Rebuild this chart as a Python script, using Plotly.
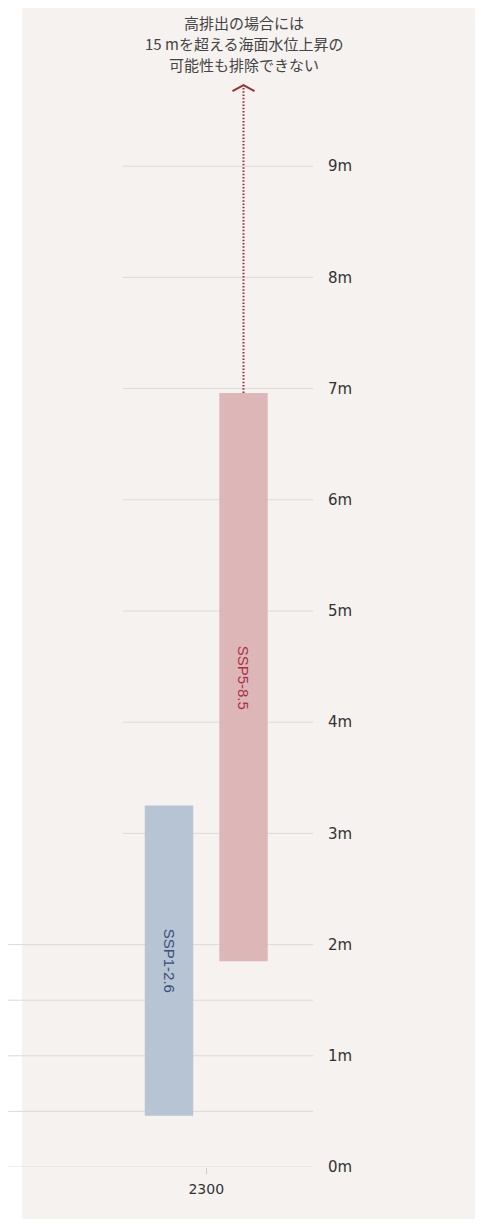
import plotly.graph_objects as go

# sea level rise by 2300 (metres), likely range per scenario
year = 2300
scenarios = ['SSP1-2.6', 'SSP5-8.5']
low = [0.46, 1.85]
high = [3.25, 6.96]
arrow_top = 9.73

y_ticks = [0, 1, 2, 3, 4, 5, 6, 7, 8, 9]
y_tick_labels = [f'{v}m' for v in y_ticks]
grid_low = [0, 0.5, 1, 1.5, 2]
grid_high = [3, 4, 5, 6, 7, 8, 9]

note_lines = ['高排出の場合には', '15 mを超える海面水位上昇の', '可能性も排除できない']

bar_colors = ['#b6c4d3', '#ddb6b8']
label_colors = ['#34507a', '#a8323f']
arrow_color = '#9c2f38'

BG = '#f6f2ef'
GRID = '#dcdad8'

# page body has an 8px margin, so the figure is sized to fit inside it
W, H = 475, 1211
PLOT_W = 305
BOTTOM = 52
PX_PER_M = 111.2
PX_PER_X = 149

fig = go.Figure()
for i, name in enumerate(scenarios):
    fig.add_trace(go.Bar(
        x=[year], y=[high[i] - low[i]], base=[low[i]], name=name,
        marker=dict(color=bar_colors[i], line=dict(width=0)),
        showlegend=False, hoverinfo='skip'
    ))

# bar slots inside the group: each takes half a unit
slot = 0.5
x_centers = [year - slot / 2, year + slot / 2]
xr = x_centers[1]

# dotted line above the high-emission bar
fig.add_trace(go.Scatter(
    x=[xr, xr], y=[high[1], arrow_top - 0.02],
    mode='lines', line=dict(color=arrow_color, width=2, dash='1.5px,1.8px'),
    showlegend=False, hoverinfo='skip'
))
# flat chevron arrowhead (half width 11px, depth 6px)
dx, dy = 11 / PX_PER_X, 6 / PX_PER_M
fig.add_trace(go.Scatter(
    x=[xr - dx, xr, xr + dx], y=[arrow_top - dy, arrow_top, arrow_top - dy],
    mode='lines', line=dict(color=arrow_color, width=2),
    showlegend=False, hoverinfo='skip'
))

# scenario labels, rotated inside bars
for i, name in enumerate(scenarios):
    fig.add_annotation(
        x=x_centers[i], y=(low[i] + high[i]) / 2, text=name,
        textangle=90, showarrow=False,
        font=dict(family='Liberation Sans Narrow, Liberation Sans, sans-serif',
                  size=15, color=label_colors[i])
    )

# note above the arrow, one line per annotation
for k, line in enumerate(note_lines):
    fig.add_annotation(
        x=xr, y=1, xref='x', yref='paper', yanchor='middle',
        yshift=-14 - 21 * k, text=line, showarrow=False,
        font=dict(family='Noto Sans CJK JP', size=15, color='#444444')
    )

# white strip on the left and gridlines
shapes = [dict(type='rect', xref='paper', yref='paper', x0=-0.1, x1=14 / PLOT_W,
               y0=-1, y1=1.1, fillcolor='white', line_width=0, layer='below')]
for v in grid_low:
    shapes.append(dict(type='line', xref='paper', yref='y', x0=0, x1=1, y0=v, y1=v,
                       line=dict(color=GRID, width=1), layer='below'))
for v in grid_high:
    shapes.append(dict(type='line', xref='paper', yref='y', x0=115 / PLOT_W, x1=1,
                       y0=v, y1=v, line=dict(color=GRID, width=1), layer='below'))

fig.update_layout(
    width=W, height=H,
    margin=dict(l=0, r=W - PLOT_W, t=0, b=BOTTOM),
    paper_bgcolor=BG, plot_bgcolor=BG,
    barmode='group', bargap=0, bargroupgap=0.35,
    shapes=shapes,
    font=dict(family='DejaVu Sans', size=15, color='#333333'),
    xaxis=dict(range=[year - 198.25 / PX_PER_X, year + 106.75 / PX_PER_X],
               tickvals=[year], ticktext=[str(year)],
               ticks='outside', ticklen=6, tickcolor='#cccccc',
               tickfont=dict(size=14), ticklabelstandoff=3,
               showgrid=False, zeroline=False, showline=False, fixedrange=True),
    yaxis=dict(range=[0, (H - BOTTOM) / PX_PER_M], side='right',
               tickvals=y_ticks, ticktext=y_tick_labels,
               ticks='', ticklabelstandoff=14,
               showgrid=False, zeroline=False, showline=False, fixedrange=True),
)

fig.write_html('out.html')
